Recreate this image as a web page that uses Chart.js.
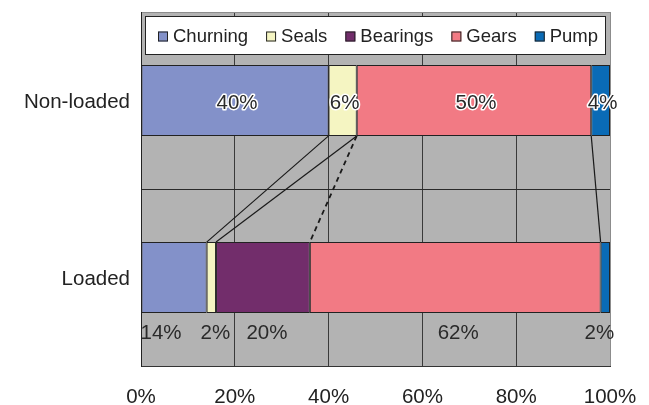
<!DOCTYPE html>
<html>
<head>
<meta charset="utf-8">
<script src="https://cdn.jsdelivr.net/npm/chart.js@4/dist/chart.umd.min.js"></script>
<style>
  html, body { margin: 0; padding: 0; background: #ffffff; }
  canvas { display: block; }
</style>
</head>
<body>
<canvas id="chart" width="649" height="405"></canvas>
<script>
// Share of power loss by source, per operating condition (%)
const categories = ['Non-loaded', 'Loaded'];
const seriesNames = ['Churning', 'Seals', 'Bearings', 'Gears', 'Pump'];
const churning = [40, 14];
const seals    = [6, 2];
const bearings = [0, 20];
const gears    = [50, 62];
const pump     = [4, 2];
const xTicks   = [0, 20, 40, 60, 80, 100];

const seriesValues = [churning, seals, bearings, gears, pump];
const seriesColors = ['#8391c9', '#f5f5c2', '#722d6b', '#f27a84', '#0a6bb6'];

// Links between segment boundaries of the two bars: [boundary on top bar, boundary on bottom bar, dashed]
const links = [[1, 1, false], [2, 2, false], [2, 3, true], [4, 4, false]];
// Horizontal nudge of the value labels printed under the bottom bar
const lowerLabelShift = [-13, 4, 4, 3, -6];

const FONT = "'Liberation Sans', Arial, sans-serif";

const plotBackground = {
  id: 'plotBackground',
  beforeDraw(chart) {
    const { ctx, chartArea: a } = chart;
    ctx.save();
    ctx.fillStyle = '#b3b3b3';
    ctx.fillRect(a.left, a.top, a.right - a.left, a.bottom - a.top);
    ctx.restore();
  }
};

function boundaryX(chart, barIndex, k) {
  let sum = 0;
  for (let i = 0; i < k; i++) sum += seriesValues[i][barIndex];
  return chart.scales.x.getPixelForValue(sum);
}

const overlays = {
  id: 'overlays',
  afterDatasetsDraw(chart) {
    const { ctx } = chart;
    const top = chart.getDatasetMeta(0).data[0];
    const bot = chart.getDatasetMeta(0).data[1];
    const topBottomEdge = top.y + top.height / 2;
    const botTopEdge = bot.y - bot.height / 2;
    const botBottomEdge = bot.y + bot.height / 2;

    // connector lines
    ctx.save();
    ctx.strokeStyle = '#1a1a1a';
    links.forEach(([a, b, dashed]) => {
      ctx.beginPath();
      ctx.lineWidth = dashed ? 1.8 : 1.2;
      ctx.setLineDash(dashed ? [5, 4] : []);
      ctx.moveTo(boundaryX(chart, 0, a), topBottomEdge);
      ctx.lineTo(boundaryX(chart, 1, b), botTopEdge);
      ctx.stroke();
    });
    ctx.restore();

    // value labels
    ctx.save();
    ctx.font = '20.5px ' + FONT;
    ctx.textAlign = 'center';
    ctx.textBaseline = 'middle';
    chart.data.datasets.forEach((ds, di) => {
      const meta = chart.getDatasetMeta(di);
      meta.data.forEach((el, bi) => {
        const v = ds.data[bi];
        if (!v) return;
        const text = v + '%';
        const cx = (el.x + el.base) / 2;
        if (bi === 0) {
          ctx.lineJoin = 'round';
          ctx.lineWidth = 3;
          ctx.strokeStyle = '#ffffff';
          ctx.strokeText(text, cx + 2, el.y + 3);
          ctx.fillStyle = '#2a2a2a';
          ctx.fillText(text, cx + 2, el.y + 3);
        } else {
          ctx.fillStyle = '#2a2a2a';
          ctx.fillText(text, cx + lowerLabelShift[di], botBottomEdge + 20);
        }
      });
    });
    ctx.restore();

    // legend box inside the plot
    const a = chart.chartArea;
    const box = { l: a.left + 4, t: a.top + 4, r: a.right - 4, b: a.top + 43 };
    ctx.save();
    ctx.fillStyle = '#ffffff';
    ctx.fillRect(box.l, box.t, box.r - box.l, box.b - box.t);
    ctx.strokeStyle = '#222222';
    ctx.lineWidth = 1;
    ctx.strokeRect(box.l + 0.5, box.t + 0.5, box.r - box.l - 1, box.b - box.t - 1);
    ctx.font = '18.5px ' + FONT;
    ctx.textBaseline = 'middle';
    ctx.textAlign = 'left';
    const sw = 10, gap = 5, spacing = 18;
    const widths = chart.data.datasets.map(d => sw + gap + ctx.measureText(d.label).width);
    let x = box.l + 13;
    const cy = (box.t + box.b) / 2 + 1.5;
    chart.data.datasets.forEach((d, i) => {
      ctx.fillStyle = d.backgroundColor;
      ctx.fillRect(x, cy - 5.5, sw, sw);
      ctx.strokeStyle = '#222222';
      ctx.strokeRect(x + 0.5, cy - 5.5 + 0.5, sw - 1, sw - 1);
      ctx.fillStyle = '#222222';
      ctx.fillText(d.label, x + sw + gap, cy);
      x += widths[i] + spacing;
    });
    ctx.restore();
  }
};

new Chart(document.getElementById('chart'), {
  type: 'bar',
  data: {
    labels: categories,
    datasets: seriesNames.map((name, i) => ({
      label: name,
      data: seriesValues[i],
      backgroundColor: seriesColors[i],
      borderColor: '#222222',
      borderWidth: 1,
      borderSkipped: false,
      categoryPercentage: 0.4,
      barPercentage: 1.0
    }))
  },
  options: {
    indexAxis: 'y',
    responsive: false,
    devicePixelRatio: 1,
    animation: false,
    layout: { padding: { top: 12, right: 39, bottom: 0, left: 0 } },
    plugins: {
      legend: { display: false },
      tooltip: { enabled: false }
    },
    scales: {
      x: {
        stacked: true,
        min: 0,
        max: 100,
        afterBuildTicks(scale) { scale.ticks = xTicks.map(v => ({ value: v })); },
        afterFit(scale) {
          scale.height = 39;
          scale.paddingLeft = 0;
          scale.paddingRight = 0;
        },
        ticks: {
          callback: v => v + '%',
          color: '#222222',
          font: { family: FONT, size: 20.5 },
          padding: 19
        },
        grid: {
          color: ctx => (ctx.tick && ctx.tick.value === 100) ? '#8c8c8c' : '#3a3a3a',
          lineWidth: 1,
          drawTicks: false
        },
        border: { display: true, color: '#333333', width: 1 }
      },
      y: {
        stacked: true,
        afterFit(scale) {
          scale.width = 141;
          scale.paddingTop = 0;
          scale.paddingBottom = 0;
        },
        ticks: {
          color: '#222222',
          font: { family: FONT, size: 20.5 },
          padding: 11,
          labelOffset: 2
        },
        grid: {
          offset: true,
          color: ctx => ctx.index === 0 ? '#8c8c8c' : '#2a2a2a',
          lineWidth: 1,
          drawTicks: false
        },
        border: { display: true, color: '#222222', width: 1 }
      }
    }
  },
  plugins: [plotBackground, overlays]
});
</script>
</body>
</html>
